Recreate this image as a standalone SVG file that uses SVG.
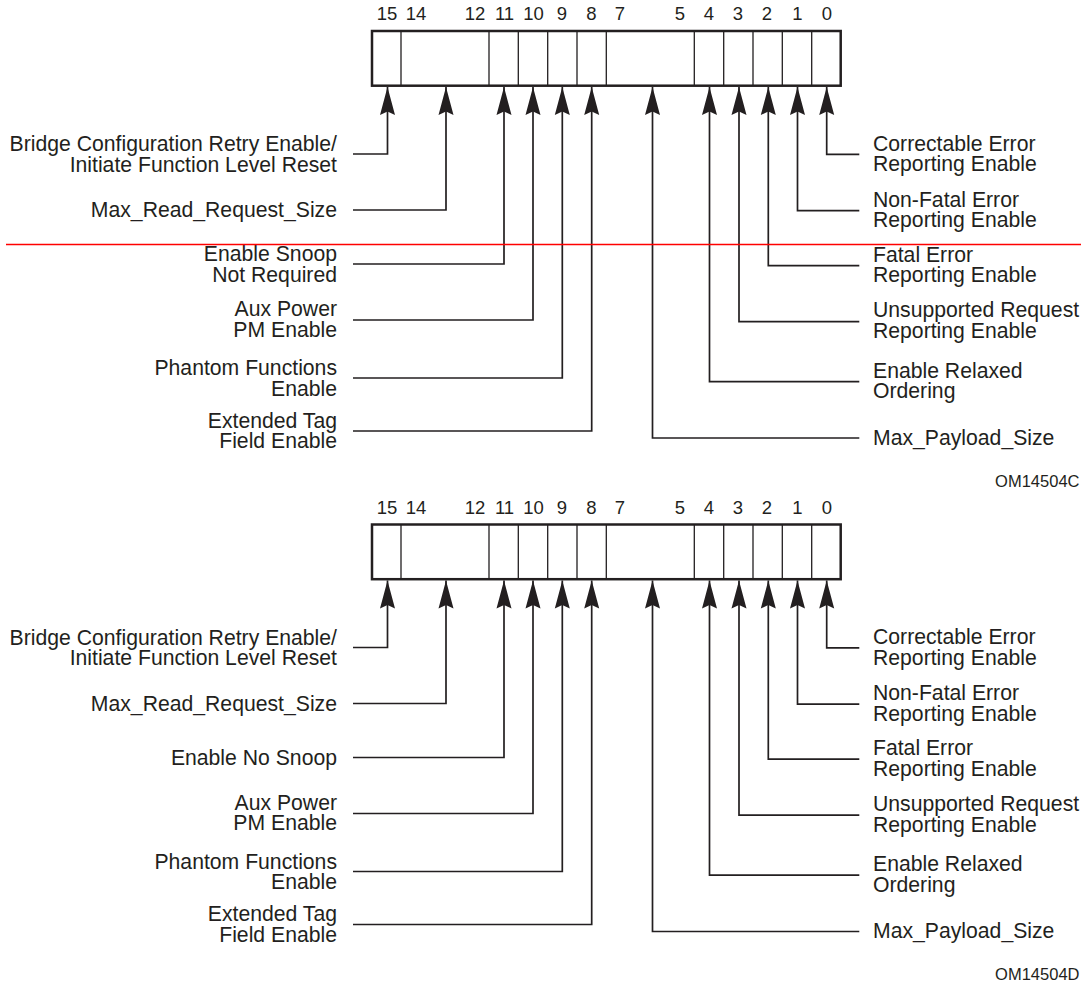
<svg xmlns="http://www.w3.org/2000/svg" width="1087" height="985" viewBox="0 0 1087 985">
<style>
text{font-family:"Liberation Sans",Arial,Helvetica,sans-serif;fill:#231f20}
.lbl{font-size:21.2px}
.l{text-anchor:end}
.bit{font-size:18.5px;text-anchor:middle}
.fig{font-size:16.5px;text-anchor:end}
.box{fill:#fff;stroke:#231f20;stroke-width:2.5}
.div{stroke:#231f20;stroke-width:1.3;fill:none}
.con{fill:none;stroke:#231f20;stroke-width:1.7;marker-start:url(#ah)}
</style>
<defs>
<marker id="ah" markerUnits="userSpaceOnUse" viewBox="-29 -8 30 16" markerWidth="30" markerHeight="16" refX="0" refY="0" orient="auto-start-reverse">
<path d="M0,0 L-28,-7.5 L-24.5,0 L-28,7.5 Z" fill="#231f20"/>
</marker>
</defs>
<rect width="1087" height="985" fill="#fff"/>

<g id="diagram-c">
<g id="register-c">
<rect class="box" x="372" y="31" width="468.7" height="54.7"/>
<path class="div" d="M401,31V85.7M489,31V85.7M518.3,31V85.7M547.7,31V85.7M577,31V85.7M606.3,31V85.7M694.3,31V85.7M723.7,31V85.7M753,31V85.7M782.3,31V85.7M811.7,31V85.7"/>
</g>
<g id="bits-c">
<text class="bit" x="387" y="20">15</text>
<text class="bit" x="416" y="20">14</text>
<text class="bit" x="475" y="20">12</text>
<text class="bit" x="504.5" y="20">11</text>
<text class="bit" x="533.5" y="20">10</text>
<text class="bit" x="562" y="20">9</text>
<text class="bit" x="591.5" y="20">8</text>
<text class="bit" x="620" y="20">7</text>
<text class="bit" x="680" y="20">5</text>
<text class="bit" x="709" y="20">4</text>
<text class="bit" x="738" y="20">3</text>
<text class="bit" x="767" y="20">2</text>
<text class="bit" x="797.5" y="20">1</text>
<text class="bit" x="827" y="20">0</text>
</g>
<g id="connectors-c">
<path class="con" d="M387.5,87V154H353"/>
<path class="con" d="M446,87V210H353"/>
<path class="con" d="M504,87V264H353"/>
<path class="con" d="M533,87V320H353"/>
<path class="con" d="M562.3,87V378H353"/>
<path class="con" d="M591.7,87V431H353"/>
<path class="con" d="M652.5,87V438H859.3"/>
<path class="con" d="M709.5,87V381.7H859.3"/>
<path class="con" d="M739,87V321.7H859.3"/>
<path class="con" d="M768.3,87V265.7H859.3"/>
<path class="con" d="M797.5,87V210.7H859.3"/>
<path class="con" d="M826.7,87V154.3H859.3"/>
</g>
<g id="c-bit15"><text class="lbl l" x="337" y="151">Bridge Configuration Retry Enable/</text><text class="lbl l" x="337" y="171.5">Initiate Function Level Reset</text></g>
<g id="c-bit14-12"><text class="lbl l" x="337" y="217">Max_Read_Request_Size</text></g>
<g id="c-bit11"><text class="lbl l" x="337" y="261">Enable Snoop</text><text class="lbl l" x="337" y="281.5">Not Required</text></g>
<g id="c-bit10"><text class="lbl l" x="337" y="316">Aux Power</text><text class="lbl l" x="337" y="336.5">PM Enable</text></g>
<g id="c-bit9"><text class="lbl l" x="337" y="375">Phantom Functions</text><text class="lbl l" x="337" y="395.5">Enable</text></g>
<g id="c-bit8"><text class="lbl l" x="337" y="427.5">Extended Tag</text><text class="lbl l" x="337" y="448">Field Enable</text></g>
<g id="c-bit0"><text class="lbl" x="873" y="150.5">Correctable Error</text><text class="lbl" x="873" y="171">Reporting Enable</text></g>
<g id="c-bit1"><text class="lbl" x="873" y="206.5">Non-Fatal Error</text><text class="lbl" x="873" y="227">Reporting Enable</text></g>
<g id="c-bit2"><text class="lbl" x="873" y="261.5">Fatal Error</text><text class="lbl" x="873" y="282">Reporting Enable</text></g>
<g id="c-bit3"><text class="lbl" x="873" y="317">Unsupported Request</text><text class="lbl" x="873" y="338">Reporting Enable</text></g>
<g id="c-bit4"><text class="lbl" x="873" y="377.5">Enable Relaxed</text><text class="lbl" x="873" y="398">Ordering</text></g>
<g id="c-bit7-5"><text class="lbl" x="873" y="444.5">Max_Payload_Size</text></g>
<text class="fig" x="1079.5" y="486.5">OM14504C</text>
</g>

<g id="diagram-d" transform="translate(0,493.5)">
<g id="register-d">
<rect class="box" x="372" y="31" width="468.7" height="54.7"/>
<path class="div" d="M401,31V85.7M489,31V85.7M518.3,31V85.7M547.7,31V85.7M577,31V85.7M606.3,31V85.7M694.3,31V85.7M723.7,31V85.7M753,31V85.7M782.3,31V85.7M811.7,31V85.7"/>
</g>
<g id="bits-d">
<text class="bit" x="387" y="20">15</text>
<text class="bit" x="416" y="20">14</text>
<text class="bit" x="475" y="20">12</text>
<text class="bit" x="504.5" y="20">11</text>
<text class="bit" x="533.5" y="20">10</text>
<text class="bit" x="562" y="20">9</text>
<text class="bit" x="591.5" y="20">8</text>
<text class="bit" x="620" y="20">7</text>
<text class="bit" x="680" y="20">5</text>
<text class="bit" x="709" y="20">4</text>
<text class="bit" x="738" y="20">3</text>
<text class="bit" x="767" y="20">2</text>
<text class="bit" x="797.5" y="20">1</text>
<text class="bit" x="827" y="20">0</text>
</g>
<g id="connectors-d">
<path class="con" d="M387.5,87V154H353"/>
<path class="con" d="M446,87V210H353"/>
<path class="con" d="M504,87V264H353"/>
<path class="con" d="M533,87V320H353"/>
<path class="con" d="M562.3,87V378H353"/>
<path class="con" d="M591.7,87V431H353"/>
<path class="con" d="M652.5,87V438H859.3"/>
<path class="con" d="M709.5,87V381.7H859.3"/>
<path class="con" d="M739,87V321.7H859.3"/>
<path class="con" d="M768.3,87V265.7H859.3"/>
<path class="con" d="M797.5,87V210.7H859.3"/>
<path class="con" d="M826.7,87V154.3H859.3"/>
</g>
<g id="d-bit15"><text class="lbl l" x="337" y="151">Bridge Configuration Retry Enable/</text><text class="lbl l" x="337" y="171.5">Initiate Function Level Reset</text></g>
<g id="d-bit14-12"><text class="lbl l" x="337" y="217">Max_Read_Request_Size</text></g>
<g id="d-bit11"><text class="lbl l" x="337" y="271">Enable No Snoop</text></g>
<g id="d-bit10"><text class="lbl l" x="337" y="316">Aux Power</text><text class="lbl l" x="337" y="336.5">PM Enable</text></g>
<g id="d-bit9"><text class="lbl l" x="337" y="375">Phantom Functions</text><text class="lbl l" x="337" y="395.5">Enable</text></g>
<g id="d-bit8"><text class="lbl l" x="337" y="427.5">Extended Tag</text><text class="lbl l" x="337" y="448">Field Enable</text></g>
<g id="d-bit0"><text class="lbl" x="873" y="150.5">Correctable Error</text><text class="lbl" x="873" y="171">Reporting Enable</text></g>
<g id="d-bit1"><text class="lbl" x="873" y="206.5">Non-Fatal Error</text><text class="lbl" x="873" y="227">Reporting Enable</text></g>
<g id="d-bit2"><text class="lbl" x="873" y="261.5">Fatal Error</text><text class="lbl" x="873" y="282">Reporting Enable</text></g>
<g id="d-bit3"><text class="lbl" x="873" y="317">Unsupported Request</text><text class="lbl" x="873" y="338">Reporting Enable</text></g>
<g id="d-bit4"><text class="lbl" x="873" y="377.5">Enable Relaxed</text><text class="lbl" x="873" y="398">Ordering</text></g>
<g id="d-bit7-5"><text class="lbl" x="873" y="444.5">Max_Payload_Size</text></g>
<text class="fig" x="1079.5" y="486.5">OM14504D</text>
</g>

<line id="red-rule" x1="6" y1="244.5" x2="1081" y2="244.5" stroke="#f00" stroke-width="1.6"/>
</svg>
